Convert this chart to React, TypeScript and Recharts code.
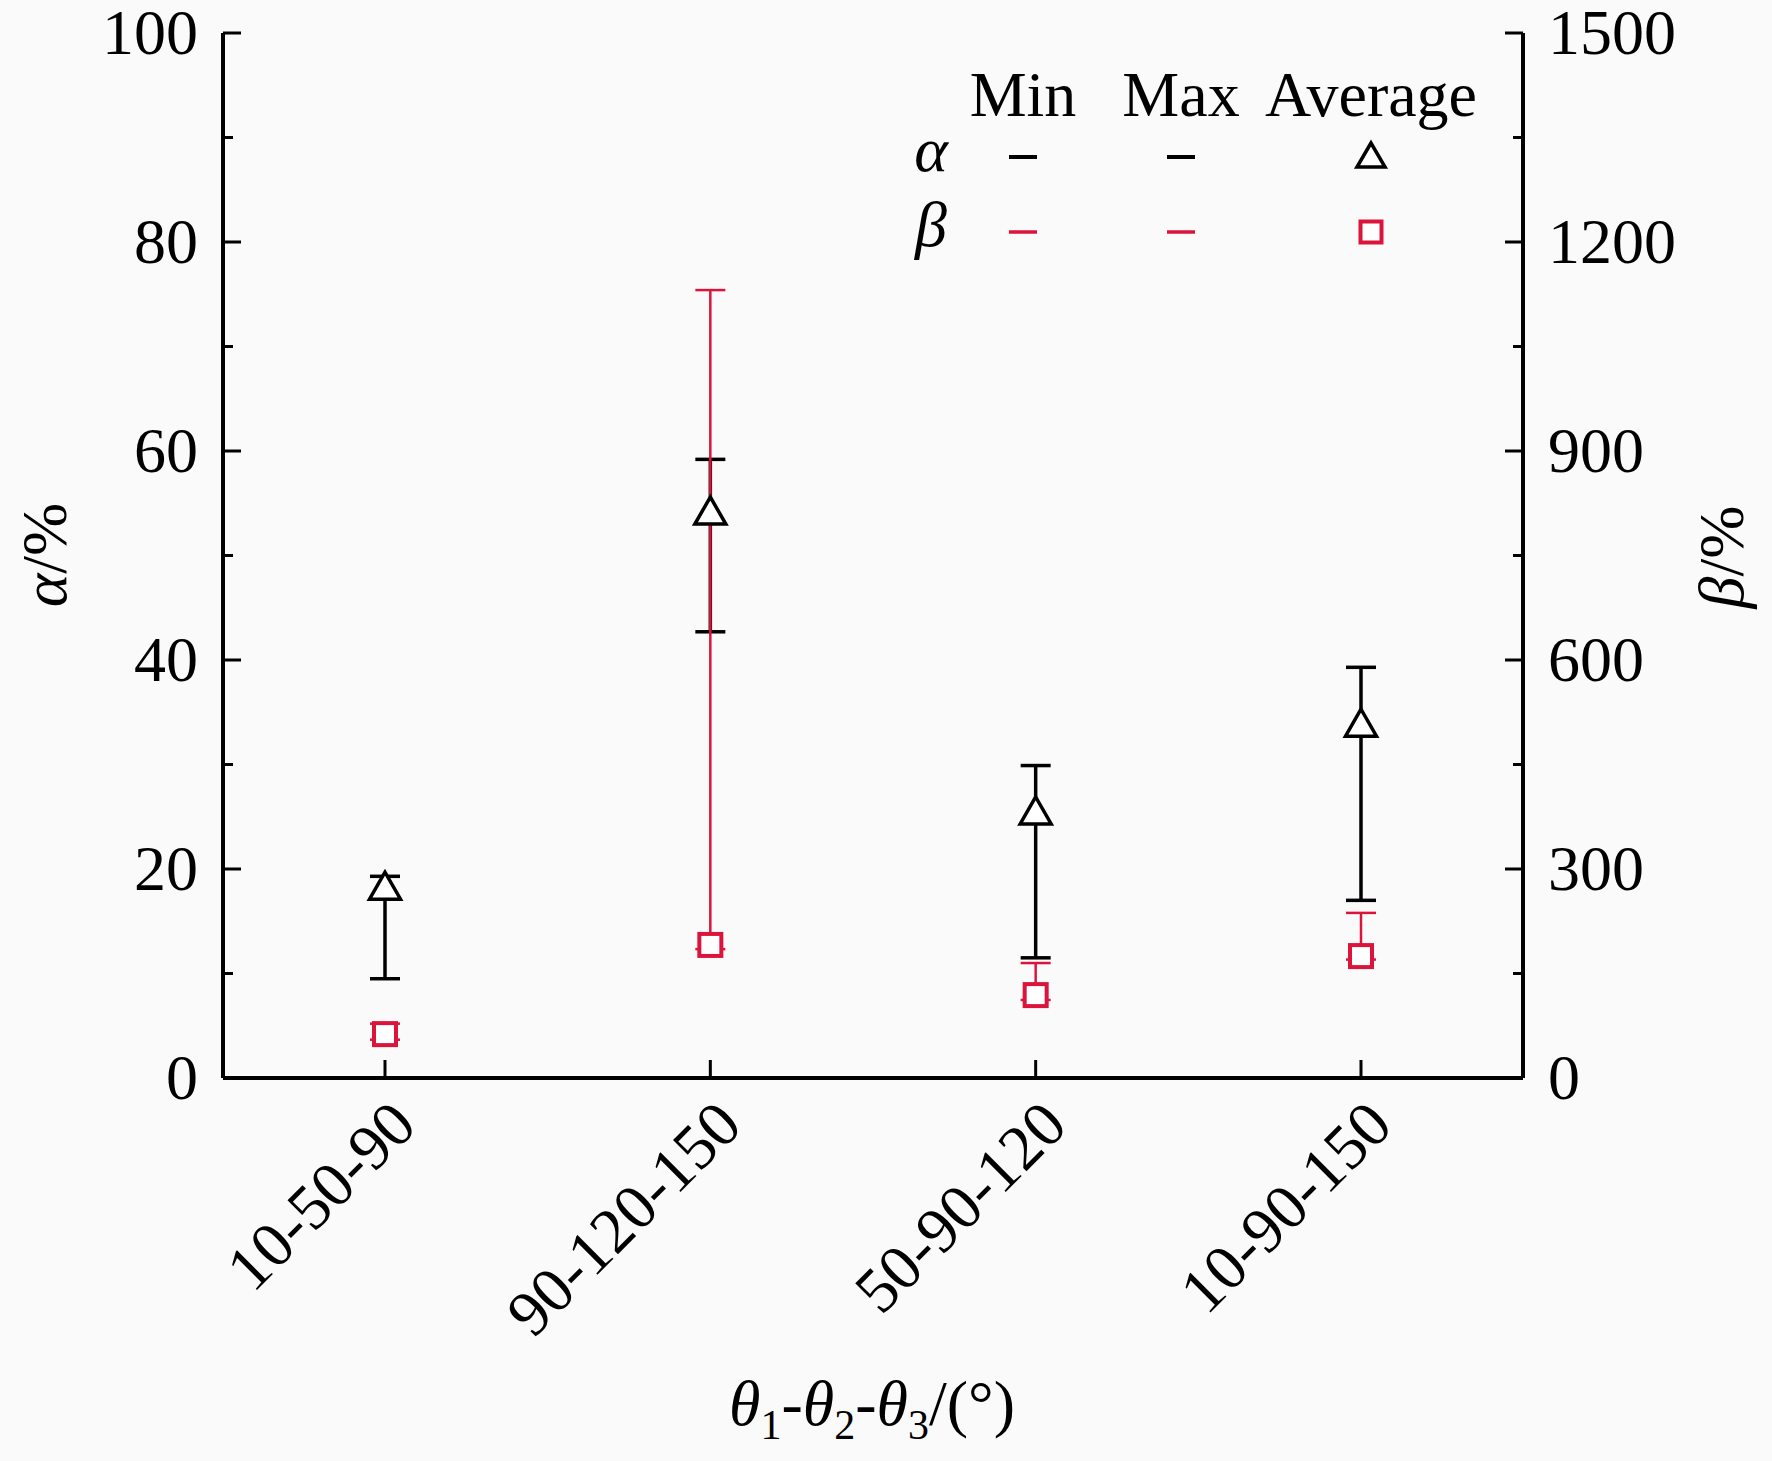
import { ComposedChart, Line, XAxis, YAxis, ErrorBar, Customized } from 'recharts';

const categories = ['10-50-90', '90-120-150', '50-90-120', '10-90-150'];
const alphaMin = [9.5, 42.7, 11.5, 17.0];
const alphaMax = [19.3, 59.2, 29.9, 39.3];
const alphaAvg = [18.4, 54.3, 25.6, 34.0];
const betaMin = [55, 185, 112, 170];
const betaMax = [78, 1131, 165, 237];
const betaAvg = [63, 191, 119, 175];

const alphaTicks = [0, 10, 20, 30, 40, 50, 60, 70, 80, 90, 100];
const betaTicks = [0, 150, 300, 450, 600, 750, 900, 1050, 1200, 1350, 1500];
const legendColumns = ['Min', 'Max', 'Average'];
const legendRows = ['α', 'β'];

const data = categories.map((name, i) => ({
    name,
    aAvg: alphaAvg[i],
    aErr: [alphaAvg[i] - alphaMin[i], alphaMax[i] - alphaAvg[i]],
    bAvg: betaAvg[i],
    bErr: [betaAvg[i] - betaMin[i], betaMax[i] - betaAvg[i]],
}));

const FONT = 'Liberation Serif, Tinos, Times New Roman, DejaVu Serif, serif';
const RED = '#dc143c';
const FS = 64;

const Triangle = ({ cx, cy, w = 31, h = 27, sw = 3.5 }: any) => (
    <polygon
        points={`${cx},${cy - h / 2} ${cx - w / 2},${cy + h / 2} ${cx + w / 2},${cy + h / 2}`}
        fill="#fff" stroke="#000" strokeWidth={sw} strokeLinejoin="miter"
    />
);

const Square = ({ cx, cy, s = 22, sw = 4 }: any) => (
    <rect x={cx - s / 2} y={cy - s / 2} width={s} height={s} fill="#fff" stroke={RED} strokeWidth={sw} />
);

const LeftTick = ({ x, y, payload }: any) => {
    const ax = x + 25;
    const major = payload.value % 20 === 0;
    return (
        <g>
            <line x1={ax} x2={ax + (major ? 18 : 10)} y1={y} y2={y} stroke="#000" strokeWidth={3} />
            {major && (
                <text x={x} y={y + 21} textAnchor="end" style={{ fontFamily: FONT }} fontSize={FS} fill="#000">
                    {payload.value}
                </text>
            )}
        </g>
    );
};

const RightTick = ({ x, y, payload }: any) => {
    const ax = x - 25;
    const major = payload.value % 300 === 0;
    return (
        <g>
            <line x1={ax} x2={ax - (major ? 18 : 10)} y1={y} y2={y} stroke="#000" strokeWidth={3} />
            {major && (
                <text x={x} y={y + 21} textAnchor="start" style={{ fontFamily: FONT }} fontSize={FS} fill="#000">
                    {payload.value}
                </text>
            )}
        </g>
    );
};

const BottomTick = ({ x, y, payload }: any) => {
    const tx = x + 34;
    const ty = y + 50;
    return (
        <g>
            <line x1={x} x2={x} y1={y} y2={y - 18} stroke="#000" strokeWidth={3} />
            <text
                x={tx} y={ty} textAnchor="end" style={{ fontFamily: FONT }} fontSize={FS} fill="#000"
                transform={`rotate(-45 ${tx} ${ty})`}
            >
                {payload.value}
            </text>
        </g>
    );
};

const colX = [1023, 1181, 1371];
const rowY = [157, 232];

const Decorations = () => (
    <g style={{ fontFamily: FONT }} fill="#000">
        {legendColumns.map((t, i) => (
            <text key={t} x={colX[i]} y={116} textAnchor="middle" fontSize={FS}>{t}</text>
        ))}
        {legendRows.map((t, r) => (
            <text key={t} x={931} y={rowY[r] + 14} textAnchor="middle" fontSize={FS} fontStyle="italic">{t}</text>
        ))}
        {[0, 1].map((c) => (
            <line key={'a' + c} x1={colX[c] - 14} x2={colX[c] + 14} y1={rowY[0]} y2={rowY[0]} stroke="#000" strokeWidth={4} />
        ))}
        {[0, 1].map((c) => (
            <line key={'b' + c} x1={colX[c] - 14} x2={colX[c] + 14} y1={rowY[1]} y2={rowY[1]} stroke={RED} strokeWidth={3.5} />
        ))}
        <Triangle cx={colX[2]} cy={rowY[0] - 2} w={28} h={24} sw={3.5} />
        <Square cx={colX[2]} cy={rowY[1]} s={21} sw={4} />

        <text x={872} y={1425} textAnchor="middle" fontSize={FS}>
            <tspan fontStyle="italic">θ</tspan>
            <tspan fontSize={42} dy={14}>1</tspan>
            <tspan dy={-14}>-</tspan>
            <tspan fontStyle="italic">θ</tspan>
            <tspan fontSize={42} dy={14}>2</tspan>
            <tspan dy={-14}>-</tspan>
            <tspan fontStyle="italic">θ</tspan>
            <tspan fontSize={42} dy={14}>3</tspan>
            <tspan dy={-14}>/(°)</tspan>
        </text>
        <text transform="translate(66 555) rotate(-90)" textAnchor="middle" fontSize={FS}>
            <tspan fontStyle="italic">α</tspan>/%
        </text>
        <text transform="translate(1743 557) rotate(-90)" textAnchor="middle" fontSize={FS}>
            <tspan fontStyle="italic">β</tspan>/%
        </text>
    </g>
);

const xPad = { left: 162, right: 162 };

export default function App() {
    return (
        <div style={{ position: 'absolute', left: 0, top: 0, width: 1772, height: 1461, background: '#fafafa' }}>
            <ComposedChart
                width={1772}
                height={1461}
                data={data}
                margin={{ top: 33, right: 99, bottom: 83, left: 73 }}
            >
                <XAxis
                    dataKey="name"
                    xAxisId="bottom"
                    orientation="bottom"
                    height={300}
                    interval={0}
                    padding={xPad}
                    tickSize={0}
                    tickMargin={0}
                    tick={<BottomTick />}
                    axisLine={{ stroke: '#000', strokeWidth: 4 }}
                />
                <XAxis
                    dataKey="name"
                    xAxisId="top"
                    orientation="top"
                    height={0}
                    padding={xPad}
                    tick={false}
                    tickLine={false}
                    axisLine={{ stroke: '#000', strokeWidth: 4 }}
                />
                <YAxis
                    yAxisId="left"
                    orientation="left"
                    width={150}
                    domain={[0, 100]}
                    ticks={alphaTicks}
                    interval={0}
                    tickSize={0}
                    tickMargin={25}
                    tick={<LeftTick />}
                    axisLine={{ stroke: '#000', strokeWidth: 4 }}
                />
                <YAxis
                    yAxisId="right"
                    orientation="right"
                    width={150}
                    domain={[0, 1500]}
                    ticks={betaTicks}
                    interval={0}
                    tickSize={0}
                    tickMargin={25}
                    tick={<RightTick />}
                    axisLine={{ stroke: '#000', strokeWidth: 4 }}
                />
                <Line
                    xAxisId="bottom"
                    yAxisId="left"
                    dataKey="aAvg"
                    stroke="none"
                    isAnimationActive={false}
                    activeDot={false}
                    dot={(p: any) => <Triangle key={'t' + p.index} cx={p.cx} cy={p.cy} />}
                >
                    <ErrorBar dataKey="aErr" width={15} stroke="#000" strokeWidth={3.5} isAnimationActive={false} />
                </Line>
                <Line
                    xAxisId="bottom"
                    yAxisId="right"
                    dataKey="bAvg"
                    stroke="none"
                    isAnimationActive={false}
                    activeDot={false}
                    dot={(p: any) => <Square key={'s' + p.index} cx={p.cx} cy={p.cy} />}
                >
                    <ErrorBar dataKey="bErr" width={15} stroke={RED} strokeWidth={2.5} isAnimationActive={false} />
                </Line>
                <Customized component={Decorations} />
            </ComposedChart>
        </div>
    );
}
